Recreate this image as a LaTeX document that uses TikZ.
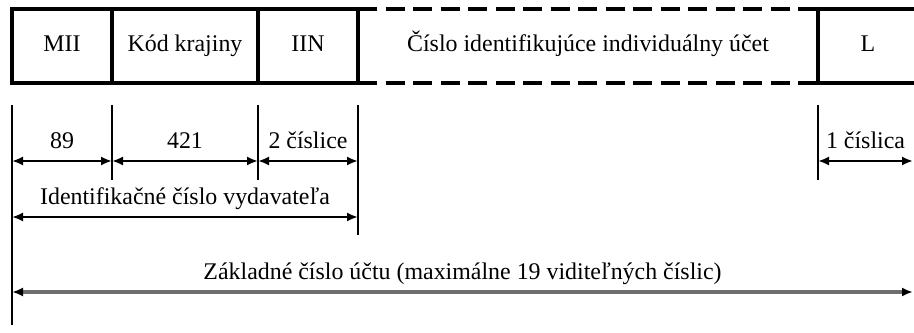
\documentclass[tikz,border=0pt]{standalone}
\usepackage{fontspec}
\setmainfont{Liberation Serif}
\usepackage{tikz}
\usetikzlibrary{arrows.meta,positioning,calc}
\definecolor{Ink}{HTML}{000000}
\definecolor{Shade}{HTML}{6E6E6E}

\begin{document}
\begin{tikzpicture}[
  field/.style={rectangle,draw=Ink,line width=2pt,outer sep=0pt,inner sep=0pt,minimum height=1.48cm,text height=9.5pt,text depth=3pt,font=\fontsize{13.6}{16}\selectfont},
  gap/.style={draw=Ink,line width=2pt,dash pattern=on 0.38cm off 0.17cm},
  tick/.style={draw=Ink,line width=1.3pt},
  dim/.style={{Latex[length=2.2mm,width=1.8mm]}-{Latex[length=2.2mm,width=1.8mm]},line width=1.2pt,draw=Ink},
  wide/.style={{Latex[length=2.2mm,width=1.8mm,color=Ink]}-{Latex[length=2.2mm,width=1.8mm,color=Ink]},line width=1.8pt,draw=Shade},
  lbl/.style={midway,anchor=base,yshift=0.25cm,font=\fontsize{13.6}{16}\selectfont}
]
\useasboundingbox (0,0) rectangle (18.28,6.64);
\node[field,minimum width=2.00cm] (mii) at (1.24,5.72) {MII};
\node[field,minimum width=2.92cm] (kod) at (3.70,5.72) {Kód krajiny};
\node[field,minimum width=2.00cm] (iin) at (6.16,5.72) {IIN};
\node[field,draw=none,minimum width=9.20cm] (ucet) at (11.76,5.72) {Číslo identifikujúce individuálny účet};
\node[field,minimum width=2.00cm] (luhn) at (17.36,5.72) {L};
\draw[gap] (ucet.north west) -- (ucet.north east);
\draw[gap] (ucet.south west) -- (ucet.south east);
\coordinate (r1) at (0,3.42);
\coordinate (r2) at (0,2.30);
\coordinate (r3) at (0,0.80);
\coordinate (rim) at (18.26,0);
\draw[tick] ([yshift=-0.44cm]mii.south west) -- ++(0,-4.40);
\draw[tick] ([yshift=-0.44cm]mii.south east) -- ++(0,-1.50);
\draw[tick] ([yshift=-0.44cm]kod.south east) -- ++(0,-1.50);
\draw[tick] ([yshift=-0.44cm]iin.south east) -- ++(0,-2.60);
\draw[tick] ([yshift=-0.44cm]luhn.south west) -- ++(0,-1.50);
\draw[dim] (mii.west |- r1) -- (mii.east |- r1) node[lbl] {89};
\draw[dim] (kod.west |- r1) -- (kod.east |- r1) node[lbl] {421};
\draw[dim] (iin.west |- r1) -- (iin.east |- r1) node[lbl] {2 číslice};
\draw[dim] (luhn.west |- r1) -- (rim |- r1) node[lbl] {1 číslica};
\draw[dim] (mii.west |- r2) -- (iin.east |- r2) node[lbl] {Identifikačné číslo vydavateľa};
\draw[wide] (mii.west |- r3) -- (rim |- r3) node[lbl] {Základné číslo účtu (maximálne 19 viditeľných číslic)};
\end{tikzpicture}
\end{document}
